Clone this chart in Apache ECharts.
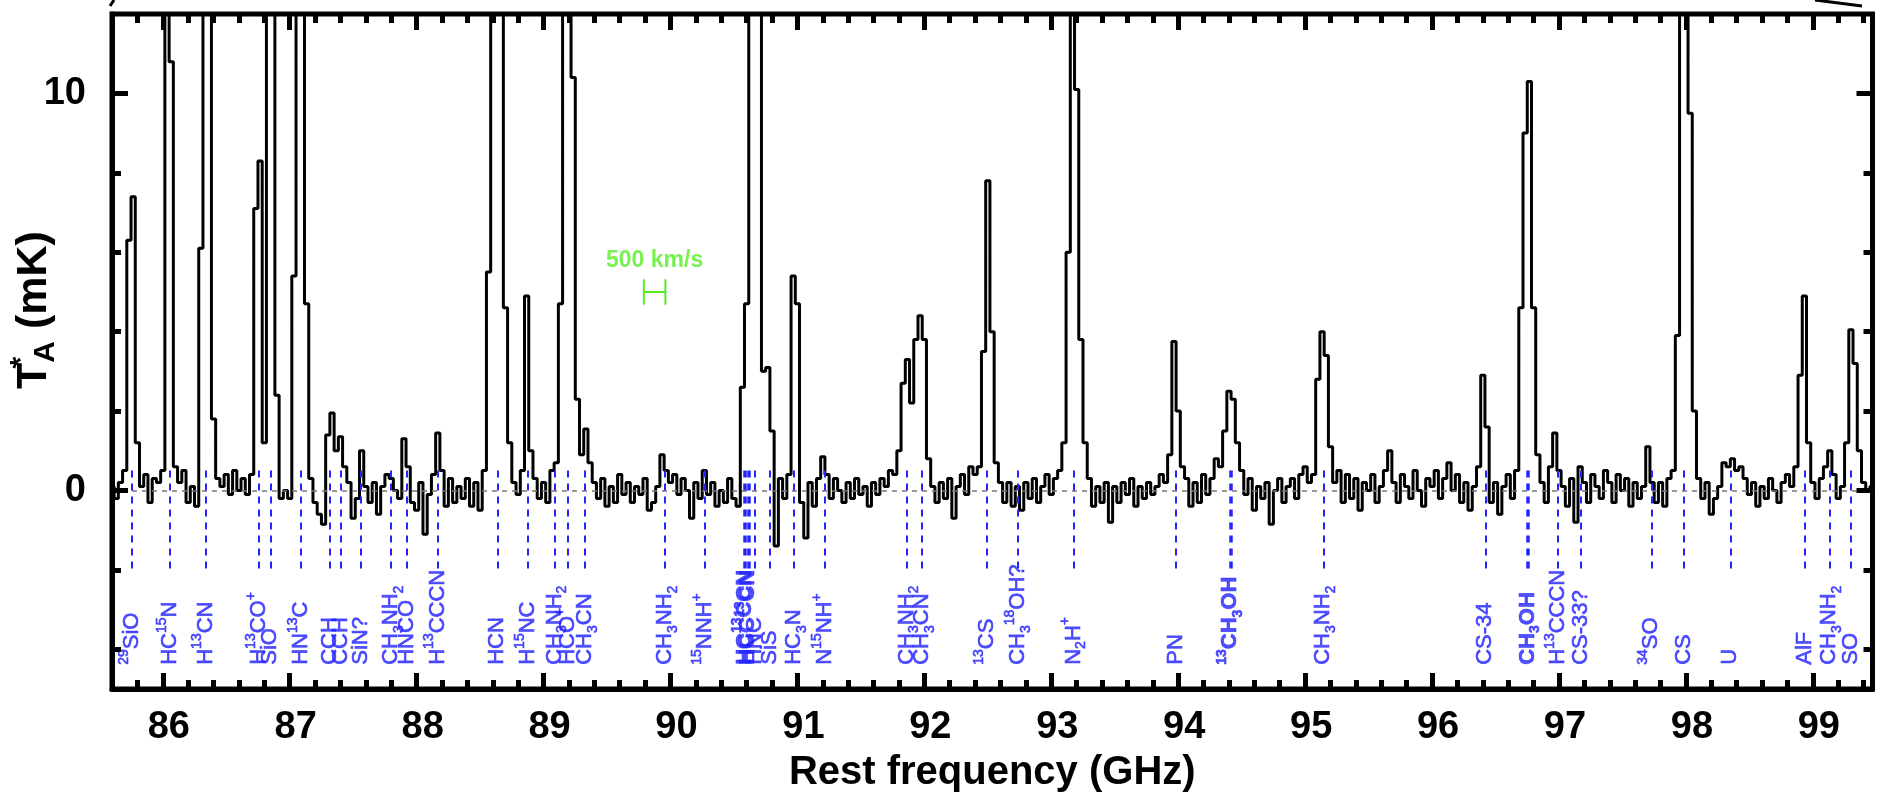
<!DOCTYPE html>
<html>
<head>
<meta charset="utf-8">
<title>Spectrum 86-99 GHz</title>
<script src="https://cdn.jsdelivr.net/npm/echarts@6/dist/echarts.min.js"></script>
<style>
  html, body { margin: 0; padding: 0; background: #fff; }
  #chart { width: 1880px; height: 801px; }
</style>
</head>
<body>
<div id="chart"></div>
<script>
// channel spacing in GHz
const chanWidth = 1 / 30

// T*A (mK), one array per GHz, first channel at the segment start
const seg85 = [0.1, -0.2, 0.2, 0.5, 6.3, 7.4, 1.2, 0.1, 0.4, -0.3, 0.3, 0.2]
const seg86 = [0.5, 15, 10.8, 0.6, 0.2, 0.5, -0.3, 0.1, -0.4, 6.1, 15, 15, 1.8, 0.3, 0.1,
  0.4, -0.1, 0.5, 0.0, 0.3, -0.1, 0.4, 7.1, 8.3, 1.2, 15, 15, 2.4, -0.2, 0.0]
const seg87 = [-0.2, 5.4, 15, 15, 4.7, 0.3, -0.3, -0.6, -0.85, 1.4, 1.95, 1.0, 1.35, 0.6, 0.2,
  -0.7, -0.2, 1.0, 0.1, -0.3, 0.2, -0.6, 0.1, 0.4, 0.3, 0.0, -0.2, 1.3, 0.6, -0.3]
const seg88 = [-0.5, 0.2, -1.1, -0.1, 0.4, 1.45, 0.5, -0.4, 0.3, -0.3, 0.1, -0.2, 0.3, -0.4, 0.2,
  -0.5, 0.5, 5.5, 14, 16, 14, 4.6, 1.2, 0.2, -0.1, 0.5, 4.9, 1.0, 0.3, -0.2]
const seg89 = [0.2, -0.3, 0.5, 0.7, 4.7, 13, 15, 10.4, 2.3, 0.9, 1.55, 0.7, 0.2, -0.2, 0.3,
  -0.4, 0.1, -0.3, 0.4, -0.1, 0.2, -0.3, 0.1, -0.1, 0.3, -0.5, -0.3, 0.1, 0.9, 0.5]
const seg90 = [0.2, 0.4, -0.1, 0.3, 0.0, -0.7, 0.2, -0.2, 0.5, -0.1, 0.2, -0.4, 0.0, -0.3, 0.3,
  -0.2, -0.4, 2.6, 4.7, 15, 15, 15, 3.0, 3.1, 1.5, -1.4, 0.3, -0.2, 0.4, 5.4]
const seg91 = [4.7, -0.3, -1.2, 0.2, -0.4, 0.3, 0.85, 0.4, -0.2, 0.3, 0.0, -0.3, 0.2, -0.2, 0.3,
  -0.1, 0.1, -0.4, 0.2, -0.1, 0.3, 0.1, 0.5, 0.4, 1.0, 2.7, 3.3, 2.2, 3.8, 4.4]
const seg92 = [3.8, 0.8, 0.1, -0.3, 0.2, -0.2, 0.3, -0.7, 0.1, 0.4, -0.1, 0.6, 0.4, 0.6, 3.5,
  7.8, 4.0, 0.7, 0.2, -0.3, 0.2, -0.4, 0.1, -0.5, 0.2, -0.2, 0.3, -0.3, 0.1, 0.4]
const seg93 = [-0.1, 0.3, 0.5, 1.2, 6.0, 14, 10.1, 3.8, 1.2, 0.3, -0.4, 0.1, -0.3, 0.2, -0.8,
  0.1, -0.3, 0.2, -0.1, 0.3, -0.4, 0.1, -0.2, 0.2, -0.1, 0.1, 0.4, 0.2, 0.9, 3.75]
const seg94 = [2.0, 0.6, 0.3, -0.4, 0.2, -0.3, 0.4, -0.1, 0.3, 0.8, 0.6, 1.5, 2.5, 2.3, 1.2,
  0.5, -0.1, 0.3, -0.5, 0.1, -0.2, 0.2, -0.85, 0.0, 0.3, -0.3, 0.1, 0.3, -0.2, 0.4]
const seg95 = [0.6, 0.2, 0.4, 2.8, 4.0, 3.4, 1.1, 0.2, 0.5, -0.3, 0.4, -0.2, 0.3, -0.5, 0.2,
  0.0, 0.4, -0.3, 0.1, 0.5, 1.0, 0.2, -0.3, 0.4, 0.1, -0.2, 0.5, 0.0, -0.4, 0.3]
const seg96 = [0.1, 0.5, -0.2, 0.3, 0.7, 0.0, 0.4, -0.3, 0.2, -0.5, 0.1, 0.6, 2.9, 1.6, -0.3,
  0.2, -0.6, 0.1, 0.4, -0.2, 0.5, 4.6, 9.0, 10.3, 4.6, 0.9, 0.2, -0.3, 0.6, 1.45]
const seg97 = [0.5, 0.1, -0.4, 0.3, -0.8, 0.6, 0.2, -0.3, 0.4, 0.1, -0.2, 0.5, 0.2, -0.3, 0.4,
  0.0, 0.3, -0.4, 0.2, -0.2, 0.1, 1.1, 0.2, -0.3, 0.2, -0.4, 0.3, 0.5, 3.9, 16]
const seg98 = [15, 9.5, 2.0, 0.3, -0.2, 0.2, -0.6, -0.2, 0.1, 0.7, 0.6, 0.8, 0.5, 0.6, 0.3,
  -0.1, 0.2, -0.4, 0.1, -0.2, 0.3, 0.0, -0.3, 0.2, 0.4, 0.1, 0.6, 2.9, 4.9, 1.2]
const seg99 = [0.2, -0.2, 0.3, 0.6, 1.0, 0.4, -0.2, 0.1, 1.2, 4.05, 3.2, 1.0, 0.2, 0.0, 0.1]

const segStarts = [85.6, 86, 87, 88, 89, 90, 91, 92, 93, 94, 95, 96, 97, 98, 99]
const segValues = [seg85, seg86, seg87, seg88, seg89, seg90, seg91, seg92, seg93, seg94,
  seg95, seg96, seg97, seg98, seg99]

// line identifications
const lineFreqs = [85.757, 86.056, 86.337, 86.759, 86.847, 87.090, 87.318, 87.405, 87.560,
  87.796, 87.926, 88.165, 88.636, 88.875, 89.086, 89.192, 89.325, 89.954, 90.270, 90.586,
  90.614, 90.667, 90.782, 90.975, 91.218, 91.860, 91.982, 92.491, 92.737, 93.175, 93.982,
  94.411, 95.144, 96.420, 96.752, 96.991, 97.173, 97.727, 97.984, 98.350, 98.935, 99.130,
  99.301]
const lineNames = ['{sup|29}SiO', 'HC{sup|15}N', 'H{sup|13}CN', 'H{sup|13}CO{sup|+}', 'SiO',
  'HN{sup|13}C', 'CCH', 'CCH', 'SiN?', 'CH{sub|3}NH{sub|2}', 'HNCO', 'H{sup|13}CCCN', 'HCN',
  'H{sup|15}NC', 'CH{sub|3}NH{sub|2}', 'HCO{sup|+}', 'CH{sub|3}CN', 'CH{sub|3}NH{sub|2}',
  '{sup|15}NNH{sup|+}', '{b|HC}{bsup|13}{b|CCN}', '{b|HCC}{bsup|13}{b|CN}', 'HNC', 'SiS',
  'HC{sub|3}N', 'N{sup|15}NH{sup|+}', 'CH{sub|3}NH{sub|2}', 'CH{sub|3}CN', '{sup|13}CS',
  'CH{sub|3}{sup|18}OH?', 'N{sub|2}H{sup|+}', 'PN', '{bsup|13}{b|CH}{bsub|3}{b|OH}',
  'CH{sub|3}NH{sub|2}', 'CS-34', '{b|CH}{bsub|3}{b|OH}', 'H{sup|13}CCCN', 'CS-33?',
  '{sup|34}SO', 'CS', 'U', 'AlF', 'CH{sub|3}NH{sub|2}', 'SO']
const boldLines = [90.586, 90.614, 94.411, 96.752]

// axis ticks
const majorGHz = [86, 87, 88, 89, 90, 91, 92, 93, 94, 95, 96, 97, 98, 99]
const minorGHz = [85.8, 86.2, 86.4, 86.6, 86.8, 87.2, 87.4, 87.6, 87.8, 88.2, 88.4, 88.6, 88.8,
  89.2, 89.4, 89.6, 89.8, 90.2, 90.4, 90.6, 90.8, 91.2, 91.4, 91.6, 91.8, 92.2, 92.4, 92.6,
  92.8, 93.2, 93.4, 93.6, 93.8, 94.2, 94.4, 94.6, 94.8, 95.2, 95.4, 95.6, 95.8, 96.2, 96.4,
  96.6, 96.8, 97.2, 97.4, 97.6, 97.8, 98.2, 98.4, 98.6, 98.8, 99.2, 99.4]
const majorT = [0, 10]
const minorT = [-4, -2, 2, 4, 6, 8]

// 500 km/s scale bar
const barFreqs = [89.79, 89.96]
const barLevel = 5
const barCap = 0.32

const xMin = 85.6
const xMax = 99.47
const yMin = -5
const yMax = 12

const gridBox = { left: 112, right: 7.5, top: 14, bottom: 112 }
const chartW = 1880
const chartH = 801

const blue = '#2424ff'
const green = '#55ee22'
const font = 'Liberation Sans'

const spectrum = []
segStarts.forEach((start, s) => {
  segValues[s].forEach((v, k) => {
    spectrum.push([+(start + k * chanWidth).toFixed(4), v])
  })
})

const mChart = echarts.init(document.getElementById('chart'))

// tick lengths are given in pixels, turned into axis units here
const yPerPx = (yMax - yMin) / (chartH - gridBox.top - gridBox.bottom)
const xPerPx = (xMax - xMin) / (chartW - gridBox.left - gridBox.right)
const tickLine = { color: '#000', width: 5, type: 'solid' }
const frameTicks = []
const addXTicks = (vals, px) => vals.forEach((v) => {
  frameTicks.push([{ coord: [v, yMin], lineStyle: tickLine }, { coord: [v, yMin + px * yPerPx] }])
  frameTicks.push([{ coord: [v, yMax], lineStyle: tickLine }, { coord: [v, yMax - px * yPerPx] }])
})
const addYTicks = (vals, px) => vals.forEach((v) => {
  frameTicks.push([{ coord: [xMin, v], lineStyle: tickLine }, { coord: [xMin + px * xPerPx, v] }])
  frameTicks.push([{ coord: [xMax, v], lineStyle: tickLine }, { coord: [xMax - px * xPerPx, v] }])
})
addXTicks(majorGHz, 16)
addXTicks(minorGHz, 9)
addYTicks(majorT, 16)
addYTicks(minorT, 9)

const labelPoints = lineFreqs.map((f, i) => ({ value: [f, -4.39], name: lineNames[i] }))
const dashLines = lineFreqs.map((f) => {
  const bold = boldLines.includes(f)
  return [
    { coord: [f, 0.5], lineStyle: { color: blue, width: bold ? 3.5 : 2, type: [7, 6] } },
    { coord: [f, -2] }
  ]
})

const tok = { color: blue, fontFamily: font, textBorderColor: blue, textBorderWidth: 0.6 }
const richStyles = {
  sub: { ...tok, fontSize: 14, verticalAlign: 'bottom' },
  sup: { ...tok, fontSize: 14, verticalAlign: 'top' },
  b: { ...tok, fontSize: 22, fontWeight: 'bold' },
  bsub: { ...tok, fontSize: 14, fontWeight: 'bold', verticalAlign: 'bottom' },
  bsup: { ...tok, fontSize: 14, fontWeight: 'bold', verticalAlign: 'top' }
}

const options = {
  animation: false,
  backgroundColor: '#fff',
  grid: {
    ...gridBox, containLabel: false,
    show: true, borderColor: '#000', borderWidth: 5
  },
  xAxis: {
    type: 'value', min: xMin, max: xMax,
    splitLine: { show: false },
    axisLine: { show: true, onZero: false, lineStyle: { color: '#000', width: 5 } },
    axisTick: { show: false },
    axisLabel: {
      customValues: majorGHz, margin: 20, color: '#000', fontSize: 38,
      fontWeight: 'bold', fontFamily: font, padding: [0, 0, 0, 12]
    },
    name: 'Rest frequency (GHz)', nameLocation: 'middle', nameGap: 64,
    nameTextStyle: { fontSize: 40, fontWeight: 'bold', fontFamily: font, color: '#000' }
  },
  yAxis: {
    type: 'value', min: yMin, max: yMax,
    splitLine: { show: false },
    axisLine: { show: true, onZero: false, lineStyle: { color: '#000', width: 5 } },
    axisTick: { show: false },
    axisLabel: {
      customValues: majorT, margin: 26, color: '#000', fontSize: 38,
      fontWeight: 'bold', fontFamily: font
    }
  },
  graphic: [
    {
      // y axis title T*A (mK)
      type: 'text', x: 34, y: 310, rotation: Math.PI / 2,
      style: {
        text: '{t|T}{s|*}{a|A}{t| (mK)}',
        align: 'center', verticalAlign: 'middle',
        rich: {
          t: { fontSize: 43, fontWeight: 'bold', fontFamily: font, fill: '#000', lineHeight: 54 },
          s: { fontSize: 30, fontWeight: 'bold', fontFamily: font, fill: '#000', width: 0, verticalAlign: 'top' },
          a: { fontSize: 30, fontWeight: 'bold', fontFamily: font, fill: '#000', verticalAlign: 'bottom' }
        }
      }
    },
    // stray marks at the top edge
    { type: 'polyline', shape: { points: [[110, 6], [114, 0]] }, style: { stroke: '#000', lineWidth: 3, fill: null } },
    { type: 'polyline', shape: { points: [[1815, 0], [1862, 6]] }, style: { stroke: '#000', lineWidth: 3, fill: null } }
  ],
  series: [
    {
      type: 'line',
      step: 'middle',
      data: spectrum,
      symbol: 'none',
      clip: true,
      lineStyle: { color: '#000', width: 3 },
      markLine: {
        silent: true, symbol: 'none', label: { show: false },
        lineStyle: { color: '#777', width: 1.5, type: [5, 5] },
        data: [{ yAxis: 0 }]
      },
      z: 3
    },
    {
      type: 'scatter',
      data: labelPoints,
      symbolSize: 1,
      itemStyle: { color: 'rgba(0,0,0,0)' },
      label: {
        show: true, position: 'inside', rotate: 90, align: 'left', verticalAlign: 'middle',
        fontSize: 22, lineHeight: 30, color: blue, fontFamily: font,
        textBorderColor: blue, textBorderWidth: 0.6,
        formatter: (p) => p.name,
        rich: richStyles
      },
      markLine: {
        silent: true, symbol: 'none', label: { show: false },
        data: dashLines
      },
      z: 2
    },
    {
      type: 'line',
      data: [
        [barFreqs[0], barLevel + barCap], [barFreqs[0], barLevel - barCap], [barFreqs[0], barLevel],
        [barFreqs[1], barLevel], [barFreqs[1], barLevel + barCap], [barFreqs[1], barLevel - barCap]
      ],
      symbol: 'none',
      lineStyle: { color: green, width: 2 },
      markLine: {
        silent: true, symbol: 'none', label: { show: false },
        data: frameTicks
      },
      z: 5
    },
    {
      type: 'scatter',
      data: [[(barFreqs[0] + barFreqs[1]) / 2, 5.8]],
      symbolSize: 1,
      itemStyle: { color: 'rgba(0,0,0,0)' },
      label: {
        show: true, position: 'inside', formatter: '500 km/s',
        fontSize: 23, fontWeight: 'bold', color: green, fontFamily: font
      },
      z: 4
    }
  ]
}

mChart.setOption(options)
</script>
</body>
</html>
